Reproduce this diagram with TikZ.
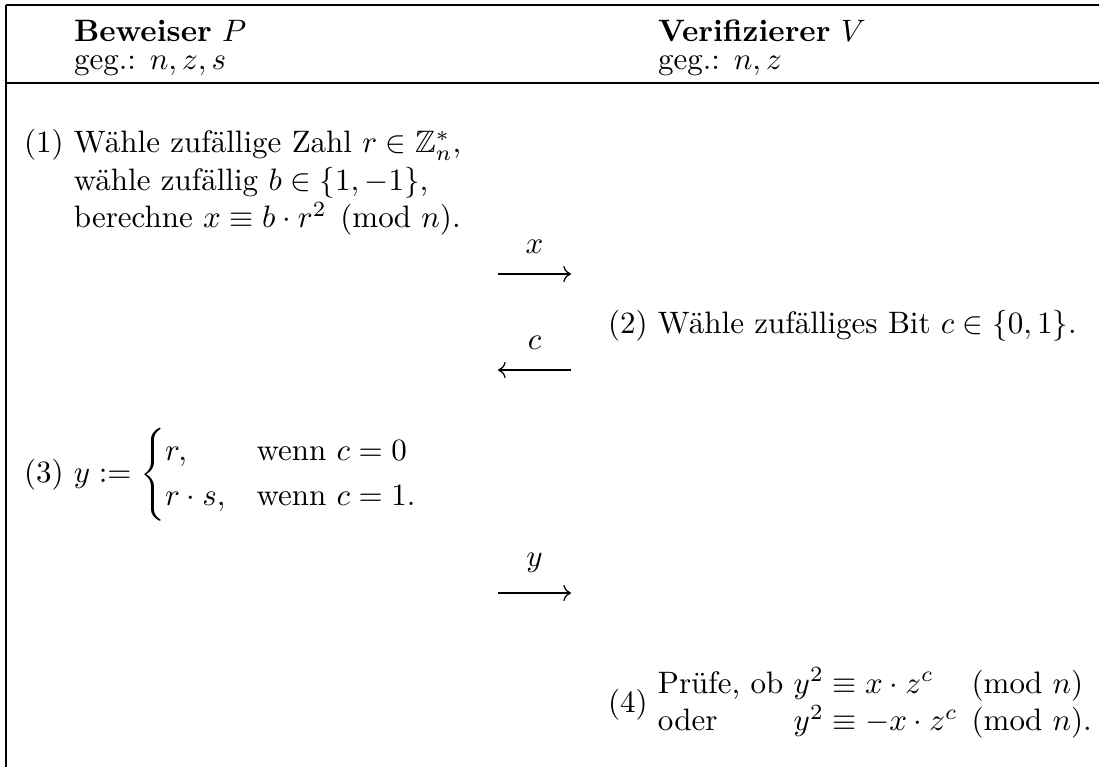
\documentclass[tikz,border=0pt]{standalone}
\usepackage{fontspec}
\usepackage{amsmath,amssymb}
\usetikzlibrary{arrows.meta}
\begin{document}
\begin{tikzpicture}[x=0.3226pt,y=-0.3226pt,
  rulel/.style={line width=0.4pt},
  txt/.style={anchor=base west,inner sep=0pt,outer sep=0pt},
  msg/.style={line width=0.4pt,-{Computer Modern Rightarrow}},
  lbl/.style={anchor=south,inner sep=0pt,yshift=6.3pt}]
\useasboundingbox (0,0) rectangle (1099,767);
% table rules
\coordinate (tl) at (6,5);
\coordinate (tr) at (1099,5);
\coordinate (ml) at (6,83);
\coordinate (mr) at (1099,83);
\coordinate (bl) at (6,767);
\draw[rulel] (tl) -- (tr);
\draw[rulel] (ml) -- (mr);
\draw[rulel] (tl) -- (bl);
% headers
\node[txt] (hp) at (74,42) {\textbf{Beweiser} $P$};
\node[txt] (gp) at (74,70) {geg.: $n, z, s$};
\node[txt] (hv) at (658,42) {\textbf{Verifizierer} $V$};
\node[txt] (gv) at (658,70) {geg.: $n, z$};
% step 1
\node[txt] (s1) at (24,153) {(1) \begin{tabular}[t]{@{}l@{}}Wähle zufällige Zahl $r \in \mathbb{Z}_n^*$,\\
wähle zufällig $b \in \{1,-1\}$,\\
berechne $x \equiv b \cdot r^2 \pmod{n}$.\end{tabular}};
% message x
\coordinate (x0) at (498,274);
\coordinate (x1) at (571,274);
\draw[msg] (x0) -- node[lbl] (lx) {$x$} (x1);
% step 2
\node[txt] (s2) at (608,333) {(2) Wähle zufälliges Bit $c \in \{0,1\}$.};
% message c
\coordinate (c0) at (498,370);
\coordinate (c1) at (571,370);
\draw[msg] (c1) -- node[lbl] (lc) {$c$} (c0);
% step 3
\node[txt] (s3) at (24,482) {(3) $y := \begin{cases} r, & \text{wenn } c = 0\\ r \cdot s, & \text{wenn } c = 1.\end{cases}$};
% message y
\coordinate (y0) at (498,593);
\coordinate (y1) at (571,593);
\draw[msg] (y0) -- node[lbl] (ly) {$y$} (y1);
% step 4
\node[txt] (s4) at (608,712) {(4) \begin{tabular}[c]{@{}l@{\ }l@{}l@{}}Prüfe, ob & $y^2 \equiv x \cdot z^c$ & $\pmod{n}$\\
oder & $y^2 \equiv -x \cdot z^c$ & $\pmod{n}$.\end{tabular}};
\end{tikzpicture}
\end{document}
